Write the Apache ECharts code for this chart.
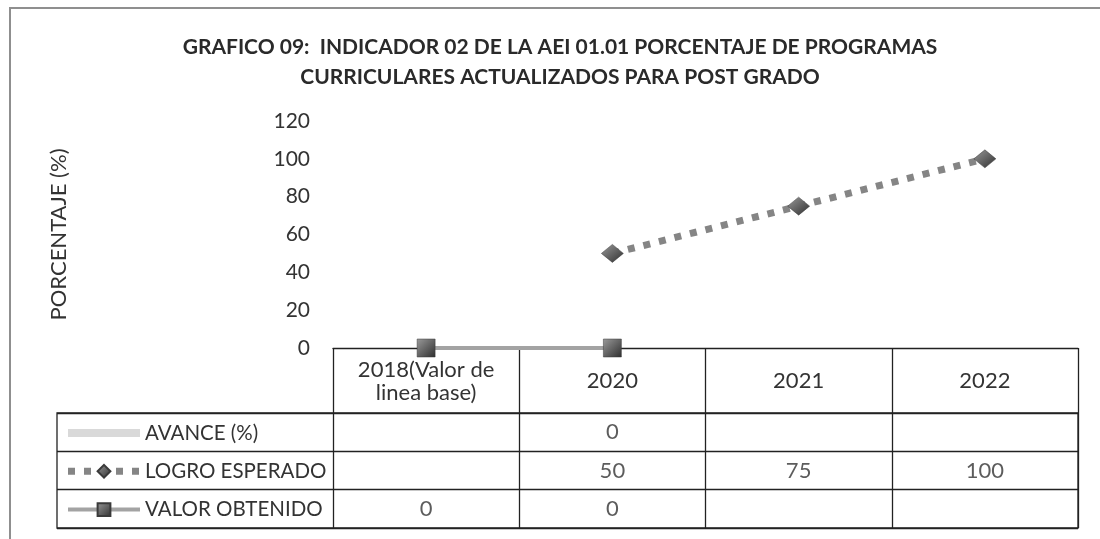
<!DOCTYPE html>
<html>
<head>
<meta charset="utf-8">
<script src="https://cdn.jsdelivr.net/npm/echarts@6/dist/echarts.min.js"></script>
<style>
  html, body { margin: 0; padding: 0; background: #fff; }
  #main { width: 1100px; height: 539px; }
</style>
</head>
<body>
<div id="main"></div>
<script>
const categories = ['2018(Valor de\nlinea base)', '2020', '2021', '2022']
const avance = [null, 0, null, null]
const logro = [null, 50, 75, 100]
const valor = [0, 0, null, null]
const rowNames = ['AVANCE (%)', 'LOGRO ESPERADO', 'VALOR OBTENIDO']
const yTicks = { min: 0, max: 120, interval: 20 }

const FONT = "Lato, 'Liberation Sans', sans-serif"
const TXT = '#333'
const LINE = '#222'

// celdas de la tabla de datos
function tableCells () {
  let cells = []
  ;[avance, logro, valor].forEach((arr, r) => {
    arr.forEach((v, c) => {
      if (v !== null) cells.push([c, rowNames[r], v])
    })
  })
  return cells
}

const markerFill = {
  type: 'linear', x: 0, y: 0, x2: 1, y2: 1,
  colorStops: [{ offset: 0, color: '#9a9a9a' }, { offset: 1, color: '#2e2e2e' }]
}

let myChart = echarts.init(document.getElementById('main'))
let option = {
  backgroundColor: '#fff',
  animation: false,
  textStyle: { fontFamily: FONT },
  title: {
    text: 'GRAFICO 09:  INDICADOR 02 DE LA AEI 01.01 PORCENTAJE DE PROGRAMAS\nCURRICULARES ACTUALIZADOS PARA POST GRADO',
    left: 560,
    top: 32,
    padding: 0,
    textAlign: 'center',
    textStyle: { fontFamily: FONT, fontSize: 21, fontWeight: 'bold', color: '#2a2a2a', lineHeight: 30 }
  },
  legend: {
    data: [
      { name: rowNames[0], itemStyle: { opacity: 0 } },
      { name: rowNames[1] },
      { name: rowNames[2] }
    ],
    orient: 'vertical',
    left: 64,
    top: 422,
    padding: 0,
    itemWidth: 72,
    itemHeight: 16,
    itemGap: 16.3,
    selectedMode: false,
    lineStyle: { width: 'inherit', type: 'inherit', cap: 'inherit' },
    textStyle: { fontFamily: FONT, fontSize: 20.5, lineHeight: 22, color: TXT }
  },
  grid: [
    { left: 333, right: 22, top: 121, height: 227 },
    { left: 57, right: 22, top: 413, height: 115, show: true, borderColor: LINE, borderWidth: 1.3 },
    { left: 333, right: 22, top: 413, height: 115 }
  ],
  xAxis: [
    {
      gridIndex: 0,
      type: 'category',
      data: categories,
      boundaryGap: true,
      axisLine: { lineStyle: { color: LINE, width: 1.3 } },
      axisTick: { show: true, interval: 0, length: 180, lineStyle: { color: LINE, width: 1.3 } },
      axisLabel: { interval: 0, margin: 33, verticalAlign: 'middle', fontFamily: FONT, fontSize: 22, lineHeight: 23, color: TXT }
    },
    { gridIndex: 1, type: 'value', show: false },
    { gridIndex: 2, type: 'category', data: categories, show: false }
  ],
  yAxis: [
    {
      gridIndex: 0,
      type: 'value',
      min: yTicks.min,
      max: yTicks.max,
      interval: yTicks.interval,
      name: 'PORCENTAJE (%)',
      nameLocation: 'middle',
      nameRotate: 90,
      nameGap: 263,
      nameTextStyle: { fontFamily: FONT, fontSize: 22, color: TXT },
      axisLine: { show: false },
      axisTick: { show: false },
      splitLine: { show: false },
      axisLabel: { margin: 23, fontFamily: FONT, fontSize: 21, color: TXT }
    },
    {
      gridIndex: 1,
      type: 'category',
      data: rowNames,
      inverse: true,
      axisLine: { show: false },
      axisTick: { show: false },
      axisLabel: { show: false },
      splitLine: { show: true, lineStyle: { color: LINE, width: 1.3 } }
    },
    { gridIndex: 2, type: 'category', data: rowNames, inverse: true, show: false }
  ],
  series: [
    {
      name: 'AVANCE (%)',
      type: 'line',
      data: avance,
      symbol: 'none',
      lineStyle: { color: '#d9d9d9', width: 8 },
      itemStyle: { color: '#d9d9d9' }
    },
    {
      name: 'LOGRO ESPERADO',
      type: 'line',
      data: logro,
      symbol: 'diamond',
      symbolSize: [22, 18],
      lineStyle: { color: '#858585', width: 7, type: [7, 9], cap: 'butt' },
      itemStyle: { color: markerFill, borderColor: '#3a3a3a', borderWidth: 0.5 },
      z: 4
    },
    {
      name: 'VALOR OBTENIDO',
      type: 'line',
      data: valor,
      symbol: 'rect',
      symbolSize: 18,
      lineStyle: { color: '#a3a3a3', width: 4 },
      itemStyle: { color: markerFill, borderColor: '#3a3a3a', borderWidth: 0.5 },
      z: 5
    },
    {
      name: 'tabla',
      type: 'scatter',
      xAxisIndex: 2,
      yAxisIndex: 2,
      data: tableCells(),
      symbolSize: 0,
      silent: true,
      label: {
        show: true,
        position: 'inside',
        formatter: (p) => p.value[2],
        fontFamily: FONT,
        fontSize: 22,
        color: TXT
      }
    }
  ],
  graphic: [
    {
      type: 'rect',
      silent: true,
      shape: { x: 10, y: 8, width: 1200, height: 600 },
      style: { fill: 'none', stroke: '#8f8f8f', lineWidth: 2 }
    }
  ]
}
myChart.setOption(option)
</script>
</body>
</html>
